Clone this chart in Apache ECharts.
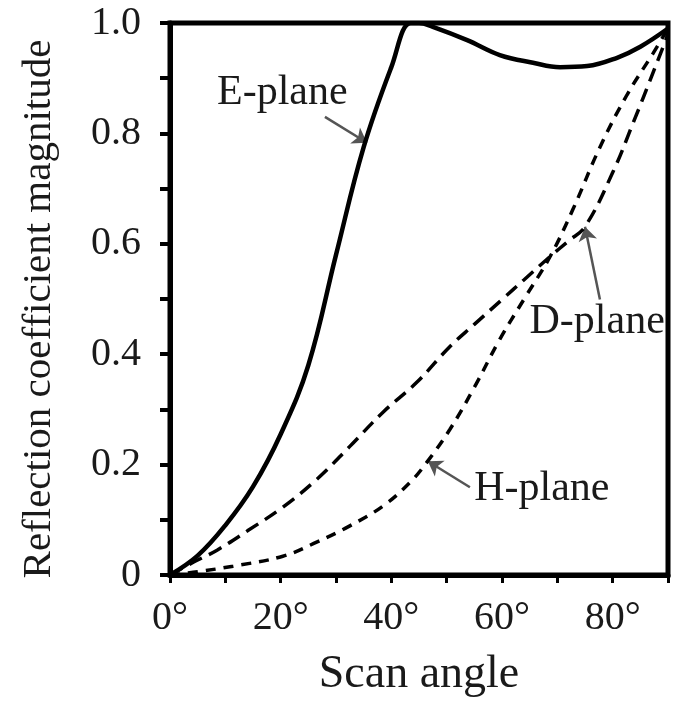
<!DOCTYPE html>
<html>
<head>
<meta charset="utf-8">
<script src="https://cdn.jsdelivr.net/npm/echarts@6/dist/echarts.min.js"></script>
<style>
  html, body { margin: 0; padding: 0; background: #fff; }
  #chart { width: 681px; height: 703px; }
</style>
</head>
<body>
<div id="chart"></div>
<script>
// [scan angle (deg), reflection coefficient magnitude]
const ePlane = [
  [0, 0], [5, 0.035], [10, 0.09], [15, 0.16], [20, 0.255], [25, 0.38],
  [30, 0.58], [35, 0.775], [40, 0.92], [43.5, 1.0], [45, 1.0], [47.5, 0.993],
  [53.7, 0.969], [59.6, 0.942], [65.6, 0.928], [70.5, 0.92], [75.4, 0.922],
  [80.8, 0.937], [85, 0.957], [90, 0.99]
];
const dPlane = [
  [0, 0], [4.2, 0.023], [8.5, 0.045], [14, 0.08], [20.4, 0.123], [26.6, 0.174],
  [32.5, 0.233], [38.5, 0.295], [44.6, 0.349], [50.6, 0.414], [55, 0.454],
  [60, 0.499], [64, 0.535], [68.7, 0.577], [72, 0.605], [75, 0.631],
  [80, 0.729], [83.7, 0.819], [87.3, 0.91], [90, 0.98]
];
const hPlane = [
  [0, 0], [5, 0.006], [11.4, 0.016], [20.4, 0.034], [26.6, 0.06], [32.5, 0.089],
  [38.5, 0.125], [43.4, 0.168], [46.4, 0.204], [50.6, 0.264], [55, 0.34],
  [59.6, 0.427], [64, 0.5], [68.7, 0.577], [72.8, 0.662], [77.7, 0.775],
  [82.6, 0.87], [87.3, 0.945], [90, 0.99]
];

// curve labels and their pointer arrows
const labelNames = ["E-plane", "D-plane", "H-plane"];
const labelPos = [[20.3, 0.873], [77.2, 0.459], [67.2, 0.156]];
const arrowFrom = [[28, 0.83], [77.7, 0.499], [54.2, 0.159]];
const arrowTo = [[35.6, 0.783], [75, 0.631], [46.6, 0.206]];

const serif = "'Liberation Serif', 'DejaVu Serif', serif";
const chart = echarts.init(document.getElementById("chart"));

const option = {
  animation: false,
  grid: {
    left: 170, right: 13, top: 23, bottom: 127,
    show: true, borderColor: "#000", borderWidth: 5
  },
  xAxis: {
    type: "value", min: 0, max: 90, interval: 10,
    name: "Scan angle", nameLocation: "middle", nameGap: 77,
    nameTextStyle: { fontFamily: serif, fontSize: 46, color: "#1a1a1a" },
    axisLine: { lineStyle: { color: "#000", width: 5 } },
    axisTick: { length: 8, lineStyle: { color: "#000", width: 3 } },
    axisLabel: {
      fontFamily: serif, fontSize: 40, color: "#1a1a1a", margin: 23,
      formatter: v => (v % 20 === 0 && v < 90 ? v + "°" : "")
    },
    splitLine: { show: false }
  },
  yAxis: {
    type: "value", min: 0, max: 1, interval: 0.1,
    name: "Reflection coefficient magnitude", nameLocation: "middle", nameGap: 110,
    nameTextStyle: {
      fontFamily: serif, fontSize: 41, color: "#1a1a1a", padding: [0, 20, 0, 0]
    },
    axisLine: { lineStyle: { color: "#000", width: 5 } },
    axisTick: { length: 10, lineStyle: { color: "#000", width: 4 } },
    axisLabel: {
      fontFamily: serif, fontSize: 40, color: "#1a1a1a", margin: 29,
      formatter: v => {
        const t = Math.round(v * 10);
        if (t % 2 !== 0) return "";
        return t === 0 ? "0" : (t / 10).toFixed(1);
      }
    },
    splitLine: { show: false }
  },
  series: [
    {
      name: "E-plane", type: "line", data: ePlane, smooth: 0.4, symbol: "none",
      lineStyle: { color: "#000", width: 4.5 }
    },
    {
      name: "D-plane", type: "line", data: dPlane, smooth: 0.4, symbol: "none",
      lineStyle: { color: "#000", width: 3.5, type: [14, 8] }
    },
    {
      name: "H-plane", type: "line", data: hPlane, smooth: 0.4, symbol: "none",
      lineStyle: { color: "#000", width: 3.5, type: [10, 8] }
    },
    {
      type: "lines", coordinateSystem: "cartesian2d",
      symbol: ["none", "arrow"], symbolSize: 14,
      lineStyle: { color: "#555", width: 2.5, opacity: 1 },
      data: arrowFrom.map((p, i) => ({ coords: [p, arrowTo[i]] }))
    },
    {
      type: "scatter", symbolSize: 0, silent: true,
      itemStyle: { opacity: 1 },
      data: labelPos.map((p, i) => ({ value: p, name: labelNames[i] })),
      label: {
        show: true, position: "inside", formatter: "{b}", opacity: 1,
        fontFamily: serif, fontSize: 42, color: "#1a1a1a", textBorderWidth: 0
      }
    }
  ]
};

chart.setOption(option);
</script>
</body>
</html>
